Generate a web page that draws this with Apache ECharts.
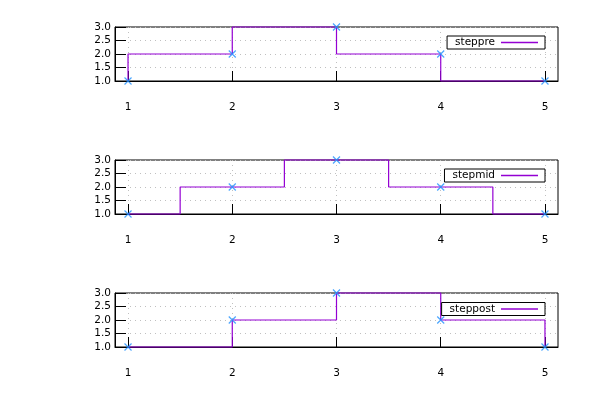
<!DOCTYPE html>
<html>
<head>
<meta charset="utf-8">
<script src="https://cdn.jsdelivr.net/npm/echarts@6/dist/echarts.min.js"></script>
<style>html,body{margin:0;padding:0;background:#fff}#c{width:600px;height:400px}</style>
</head>
<body>
<div id="c"></div>
<script>
const xValues = [1, 2, 3, 4, 5];
const yValues = [1, 2, 3, 2, 1];
const seriesNames = ['steppre', 'stepmid', 'steppost'];
const stepModes = ['start', 'middle', 'end'];
const xTicks = [1, 2, 3, 4, 5];
const yTicks = [1.0, 1.5, 2.0, 2.5, 3.0];

const FONT = 'DejaVu Sans';
const LINE = '#9400d3';
const MARK = '#1e90ff';
const gridTops = [27, 160, 293];
const legendTops = [36, 169, 302.5];

const pts = xValues.map((x, i) => [x, yValues[i]]);
const chart = echarts.init(document.getElementById('c'), null, {renderer: 'canvas'});

const grids = [], xAxes = [], yAxes = [], series = [], legends = [];
gridTops.forEach((t, i) => {
  grids.push({left: 115, right: 42, top: t, height: 54, show: true, borderColor: '#000', borderWidth: 1, backgroundColor: 'transparent'});
  xAxes.push({
    type: 'value', gridIndex: i, min: 0.875, max: 5.125,
    axisLine: {show: true, lineStyle: {color: '#000', width: 1}},
    axisTick: {show: true, inside: true, length: 10, customValues: xTicks, lineStyle: {color: '#000'}},
    axisLabel: {show: true, margin: 21, customValues: xTicks, color: '#000', fontFamily: FONT, fontSize: 10.5, formatter: v => String(v)},
    splitLine: {show: true, lineStyle: {color: '#c0c0c0', type: [1, 4], width: 1}}
  });
  yAxes.push({
    type: 'value', gridIndex: i, min: 1, max: 3, interval: 0.5,
    axisLine: {show: true, lineStyle: {color: '#000', width: 1}},
    axisTick: {show: true, inside: true, length: 11, lineStyle: {color: '#000'}},
    axisLabel: {show: true, margin: 4, color: '#000', fontFamily: FONT, fontSize: 10.5, formatter: v => v.toFixed(1)},
    splitLine: {show: true, lineStyle: {color: '#c0c0c0', type: [1, 4], width: 1}}
  });
  series.push({
    name: seriesNames[i], type: 'line', xAxisIndex: i, yAxisIndex: i,
    step: stepModes[i], data: pts, symbol: 'none', color: LINE,
    lineStyle: {color: LINE, width: 1.2}, z: 3, silent: true, clip: false
  });
  series.push({
    name: seriesNames[i] + '_pts', type: 'scatter', xAxisIndex: i, yAxisIndex: i,
    data: pts, symbol: 'path://M0,0L10,10M10,0L0,10', symbolSize: 7,
    itemStyle: {color: 'none', borderColor: MARK, borderWidth: 1.2},
    z: 4, clip: false, silent: true
  });
  legends.push({
    data: [seriesNames[i]], right: 55, top: legendTops[i], align: 'right', orient: 'vertical',
    borderColor: '#000', borderWidth: 1, backgroundColor: '#fff', borderRadius: 0,
    padding: [1, 7, 1, 8], itemWidth: 37, itemHeight: 1.5, icon: 'rect',
    selectedMode: false,
    textStyle: {fontFamily: FONT, fontSize: 10.5, color: '#000', padding: [0, 1, 0, 0]}
  });
});

chart.setOption({
  animation: false,
  backgroundColor: '#fff',
  grid: grids, xAxis: xAxes, yAxis: yAxes, series: series, legend: legends
});
</script>
</body>
</html>
